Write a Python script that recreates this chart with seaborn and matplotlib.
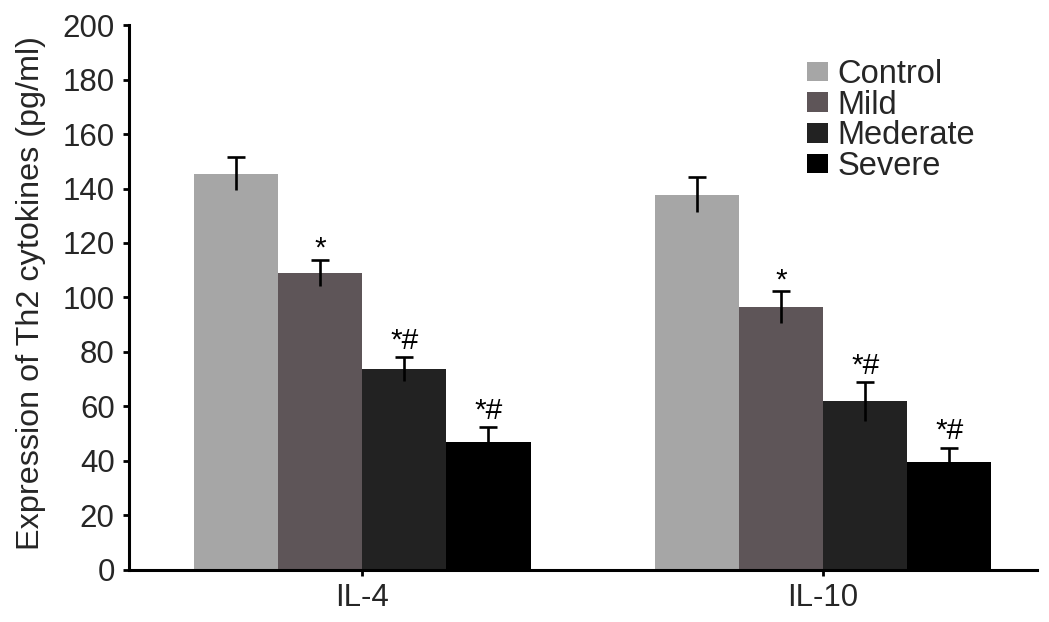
import matplotlib
matplotlib.use('agg')
import matplotlib.pyplot as plt
import seaborn as sns
import pandas as pd
import numpy as np

cytokines = ['IL-4', 'IL-10']
groups = ['Control', 'Mild', 'Mederate', 'Severe']
il4_mean = [145.5, 108.9, 73.7, 46.7]
il4_err = [6.0, 4.8, 4.5, 5.6]
il10_mean = [137.7, 96.4, 61.8, 39.4]
il10_err = [6.4, 5.8, 7.1, 5.4]
marks = ['', '*', '*#', '*#']
colors = ['#a6a6a6', '#5e5558', '#222222', '#000000']

df = pd.DataFrame({
    'cytokine': np.repeat(cytokines, len(groups)),
    'group': groups * len(cytokines),
    'value': il4_mean + il10_mean,
    'err': il4_err + il10_err,
})

sns.set_style('ticks')
plt.rcParams['font.family'] = ['Liberation Sans', 'DejaVu Sans']

fig = plt.figure(figsize=(10.49, 6.22), dpi=100)
ax = fig.add_axes([0.1226, 0.0844, 0.866, 0.875])
sns.barplot(data=df, x='cytokine', y='value', hue='group', order=cytokines,
            hue_order=groups, palette=colors, width=0.73, errorbar=None,
            saturation=1, linewidth=0, legend=False, ax=ax)

# error bars (top cap only) and significance marks
mark_gap = {'*': 1.2, '*#': 3.0}
for i, g in enumerate(groups):
    sub = df[df['group'] == g]
    cont = ax.containers[i]
    xs = [b.get_x() + b.get_width() / 2 for b in cont]
    eb = ax.errorbar(xs, sub['value'], yerr=sub['err'], fmt='none',
                     ecolor='black', elinewidth=1.9, capsize=6.5,
                     capthick=1.9, zorder=5)
    eb[1][0].set_visible(False)
    for x, v, e in zip(xs, sub['value'], sub['err']):
        if marks[i]:
            ax.text(x, v + e + mark_gap[marks[i]], marks[i], ha='center',
                    va='baseline', fontsize=21.5, color='black')

ax.set_ylim(0, 200)
ax.set_yticks(range(0, 201, 20))
ax.set_xlim(-0.507, 1.464)
ax.set_xlabel('')
ax.set_ylabel('Expression of Th2 cytokines (pg/ml)', fontsize=23.3)
ax.yaxis.set_label_coords(-0.091, 0.508)

for s in ['top', 'right']:
    ax.spines[s].set_visible(False)
for s in ['left', 'bottom']:
    ax.spines[s].set_linewidth(2.2)
    ax.spines[s].set_color('black')
ax.tick_params(axis='both', direction='out', length=4, width=2,
               labelsize=22.5, pad=6, color='black')

ax.legend(ax.containers[:4], groups, loc='upper left',
          bbox_to_anchor=(0.769, 0.905), bbox_transform=fig.transFigure,
          frameon=False, fontsize=23.5, borderpad=0, borderaxespad=0,
          handlelength=0.65, handleheight=0.55, handletextpad=0.3,
          labelspacing=-0.01)

fig.savefig('out.png', dpi=100)
